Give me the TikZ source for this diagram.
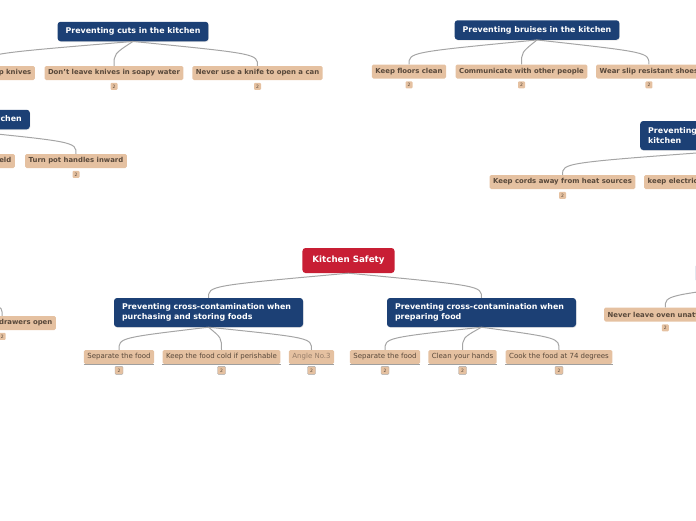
\documentclass[tikz,border=0pt]{standalone}
\usepackage{fontspec}
\setmainfont{DejaVu Sans}
\usepackage{xcolor}
\usetikzlibrary{positioning,calc,shadows}
\definecolor{topicblue}{RGB}{28,64,117}
\definecolor{rootred}{RGB}{200,30,52}
\definecolor{leaftan}{RGB}{229,193,161}
\definecolor{leaftext}{RGB}{88,72,58}
\definecolor{hinttext}{RGB}{150,125,105}
\definecolor{linkgray}{RGB}{165,165,165}

\begin{document}
\begin{tikzpicture}[
    x=1pt, y=-1pt,
    root/.style={rectangle, rounded corners=3pt, fill=rootred, text=white, font=\fontsize{8.7}{10}\selectfont\bfseries, inner xsep=10pt, minimum height=25pt},
    topic/.style={rectangle, rounded corners=3pt, fill=topicblue, text=white, font=\fontsize{7.9}{9}\selectfont\bfseries, inner xsep=8pt, minimum height=19.5pt, drop shadow={shadow xshift=0.5pt, shadow yshift=-0.8pt, opacity=0.2}},
    twoline/.style={topic, text width=173pt, align=left, minimum height=29pt, inner ysep=2pt, font=\fontsize{7.9}{10}\selectfont\bfseries},
    leaf/.style={rectangle, rounded corners=1.5pt, fill=leaftan, text=leaftext, font=\fontsize{6.9}{7.5}\selectfont\bfseries, inner xsep=3.5pt, inner ysep=0pt, minimum height=14pt},
    plainleaf/.style={leaf, font=\fontsize{7}{7.5}\selectfont},
    badge/.style={rectangle, rounded corners=1pt, fill=leaftan, text=leaftext, font=\fontsize{4.5}{4.5}\selectfont, inner sep=0pt, minimum width=7pt, minimum height=7pt},
    ringbadge/.style={badge, draw=gray!70, line width=0.4pt, minimum width=8pt, minimum height=8pt},
    link/.style={draw=linkgray, line width=1pt},
    leafbase/.style={draw=gray!75, line width=0.6pt}
]
    \useasboundingbox (0,0) rectangle (696,520);
    \clip (0,0) rectangle (696,520);

    % Central topic
    \node[root] (root) at (348.5,260.5) {Kitchen Safety};

    % Main topics
    \node[topic] (cuts) at (133,31.5) {Preventing cuts in the kitchen};
    \node[topic] (bruise) at (537,30) {Preventing bruises in the kitchen};
    \node[topic, anchor=east] (burns) at (30,119.5) {Preventing burns in the kitchen};
    \node[twoline, anchor=west] (shock) at (640,135.5) {Preventing electrical shocks in the\\kitchen};
    \node[topic, anchor=west] (fires) at (695.6,273) {Preventing fires in the kitchen};
    \node[twoline] (buy) at (208.5,312.5) {Preventing cross-contamination when\\purchasing and storing foods};
    \node[twoline] (prep) at (481.5,312.5) {Preventing cross-contamination when\\preparing food};

    % Parents that lie outside the page
    \coordinate (fallsroot) at (-70,296);

    % Cuts
    \node[leaf, anchor=east] (sharp) at (35,73) {Always use sharp knives};
    \node[leaf] (soak) at (114,73) {Don't leave knives in soapy water};
    \node[leaf] (canopen) at (257.5,73) {Never use a knife to open a can};

    % Bruises
    \node[leaf] (floors) at (409,71.5) {Keep floors clean};
    \node[leaf] (talk) at (521.5,71.5) {Communicate with other people};
    \node[leaf, anchor=west] (shoes) at (596,71.5) {Wear slip resistant shoes};

    % Burns
    \node[leaf, anchor=east] (shield) at (15,161) {Use a splatter shield};
    \node[leaf] (handles) at (76,161) {Turn pot handles inward};

    % Electrical shocks
    \node[leaf] (cords) at (562.5,182) {Keep cords away from heat sources};
    \node[leaf, anchor=west] (dry) at (644,182) {keep electrical appliances dry};

    % Falls and fires
    \node[leaf, anchor=east] (drawers) at (56,323) {Don't leave drawers open};
    \node[leaf, anchor=west] (oven) at (604,314.5) {Never leave oven unattended};

    % Cross-contamination
    \node[plainleaf] (sepbuy) at (119,357) {Separate the food};
    \node[plainleaf] (coldbuy) at (221.5,357) {Keep the food cold if perishable};
    \node[plainleaf, text=hinttext] (angle) at (311.5,357) {Angle No.3};
    \node[plainleaf] (sepprep) at (385,357) {Separate the food};
    \node[plainleaf] (hands) at (462.5,357) {Clean your hands};
    \node[plainleaf] (cook) at (559,357) {Cook the food at 74 degrees};
    \draw[leafbase] (sepbuy.south west) -- (sepbuy.south east);
    \draw[leafbase] (coldbuy.south west) -- (coldbuy.south east);
    \draw[leafbase] (angle.south west) -- (angle.south east);
    \draw[leafbase] (sepprep.south west) -- (sepprep.south east);
    \draw[leafbase] (hands.south west) -- (hands.south east);
    \draw[leafbase] (cook.south west) -- (cook.south east);

    % Counters
    \node[badge, below=2.5pt of soak] (soakcount) {2};
    \node[badge, below=2.5pt of canopen] (canopencount) {2};
    \node[badge, below=2.5pt of floors] (floorscount) {2};
    \node[badge, below=2.5pt of talk] (talkcount) {2};
    \node[badge, below=2.5pt of shoes] (shoescount) {2};
    \node[badge, below=2.5pt of handles] (handlescount) {2};
    \node[badge, below=2.5pt of cords] (cordscount) {2};
    \node[badge, below=2.5pt of drawers] (drawerscount) {2};
    \node[badge, below=2.5pt of oven] (ovencount) {2};
    \node[ringbadge, below=2pt of sepbuy] (sepbuycount) {2};
    \node[ringbadge, below=2pt of coldbuy] (coldbuycount) {2};
    \node[ringbadge, below=2pt of angle] (anglecount) {2};
    \node[ringbadge, below=2pt of sepprep] (sepprepcount) {2};
    \node[ringbadge, below=2pt of hands] (handscount) {2};
    \node[ringbadge, below=2pt of cook] (cookcount) {2};

    % Links
    \draw[link] (root.south) .. controls ($(buy.north)+(0,-12)$) .. (buy.north);
    \draw[link] (root.south) .. controls ($(prep.north)+(0,-12)$) .. (prep.north);
    \draw[link] (cuts.south) .. controls ($(sharp.north)+(0,-12)$) .. (sharp.north);
    \draw[link] (cuts.south) .. controls ($(soak.north)+(0,-12)$) .. (soak.north);
    \draw[link] (cuts.south) .. controls ($(canopen.north)+(0,-12)$) .. (canopen.north);
    \draw[link] (bruise.south) .. controls ($(floors.north)+(0,-12)$) .. (floors.north);
    \draw[link] (bruise.south) .. controls ($(talk.north)+(0,-12)$) .. (talk.north);
    \draw[link] (bruise.south) .. controls ($(shoes.north)+(0,-12)$) .. (shoes.north);
    \draw[link] (burns.south) .. controls ($(shield.north)+(0,-12)$) .. (shield.north);
    \draw[link] (burns.south) .. controls ($(handles.north)+(0,-12)$) .. (handles.north);
    \draw[link] (shock.south) .. controls ($(cords.north)+(0,-12)$) .. (cords.north);
    \draw[link] (shock.south) .. controls ($(dry.north)+(0,-12)$) .. (dry.north);
    \draw[link] (fallsroot) .. controls ($(drawers.north)+(0,-12)$) .. (drawers.north);
    \draw[link] (fires.south) .. controls ($(oven.north)+(0,-12)$) .. (oven.north);
    \draw[link] (buy.south) .. controls ($(sepbuy.north)+(0,-12)$) .. (sepbuy.north);
    \draw[link] (buy.south) .. controls ($(coldbuy.north)+(0,-12)$) .. (coldbuy.north);
    \draw[link] (buy.south) .. controls ($(angle.north)+(0,-12)$) .. (angle.north);
    \draw[link] (prep.south) .. controls ($(sepprep.north)+(0,-12)$) .. (sepprep.north);
    \draw[link] (prep.south) .. controls ($(hands.north)+(0,-12)$) .. (hands.north);
    \draw[link] (prep.south) .. controls ($(cook.north)+(0,-12)$) .. (cook.north);
\end{tikzpicture}
\end{document}
